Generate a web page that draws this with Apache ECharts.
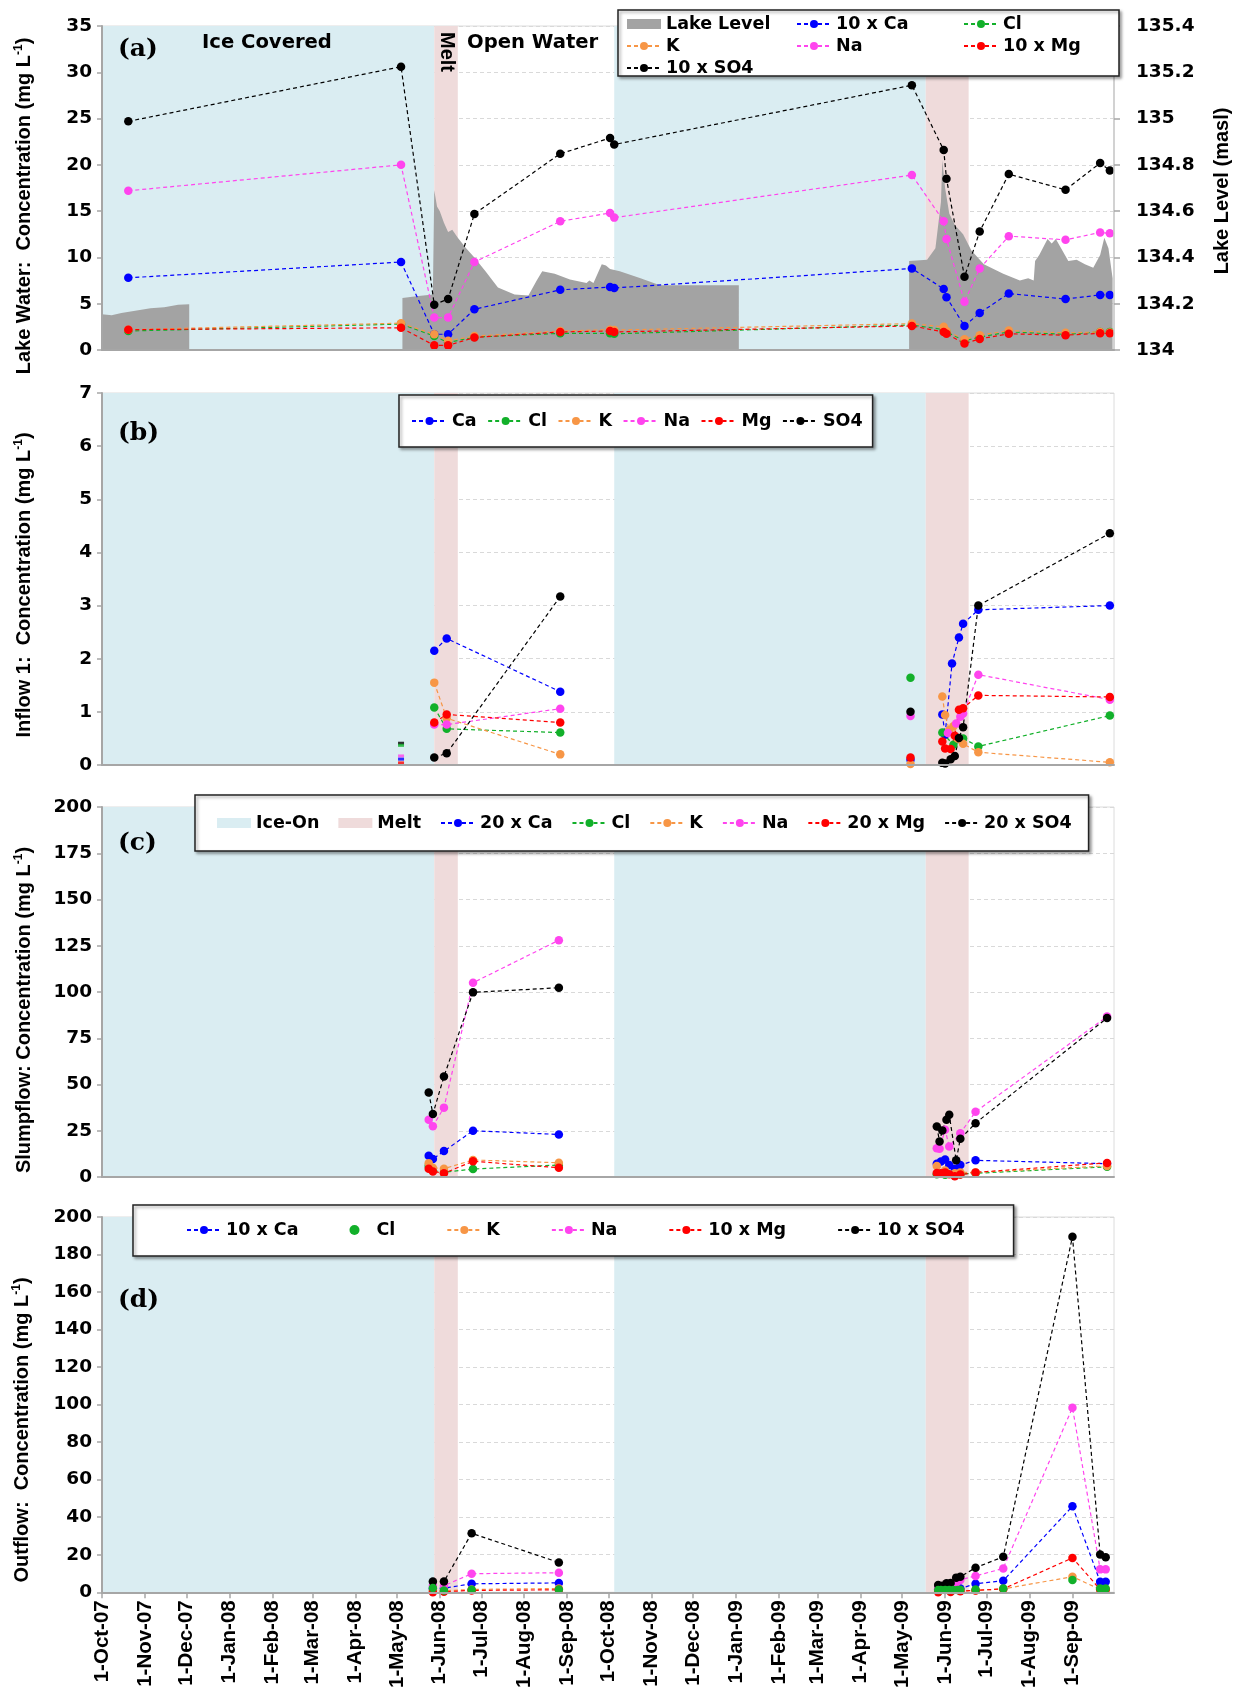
<!DOCTYPE html>
<html><head><meta charset="utf-8">
<script src="https://cdn.jsdelivr.net/npm/echarts@6/dist/echarts.min.js"></script>
<style>html,body{margin:0;padding:0;background:#fff}#c{width:1235px;height:1691px}</style>
</head><body><div id="c"></div>
<script>
// ---------------- DATA ----------------
const xTickLabels = ['1-Oct-07','1-Nov-07','1-Dec-07','1-Jan-08','1-Feb-08','1-Mar-08','1-Apr-08','1-May-08','1-Jun-08','1-Jul-08','1-Aug-08','1-Sep-08','1-Oct-08','1-Nov-08','1-Dec-08','1-Jan-09','1-Feb-09','1-Mar-09','1-Apr-09','1-May-09','1-Jun-09','1-Jul-09','1-Aug-09','1-Sep-09'];
const icePeriods = [['2007-10-01','2008-05-28'],['2008-10-05','2009-05-18']];
const meltPeriods = [['2008-05-28','2008-06-14'],['2009-05-18','2009-06-18']];

// (a) Lake water
const lakeDates = ['2007-10-20','2008-05-04','2008-05-28','2008-06-07','2008-06-26','2008-08-27','2008-10-02','2008-10-05','2009-05-08','2009-05-31','2009-06-02','2009-06-15','2009-06-26','2009-07-17','2009-08-27','2009-09-21','2009-09-28'];
const lakeCa10  = [7.8, 9.5, 1.7, 1.7, 4.4, 6.5, 6.8, 6.7, 8.8, 6.6, 5.7, 2.6, 4.0, 6.1, 5.5, 5.95, 5.95];
const lakeCl    = [2.05, 2.8, 1.5, 0.8, 1.4, 1.8, 1.8, 1.75, 2.7, 2.2, 1.95, 1.0, 1.4, 1.95, 1.7, 1.95, 1.95];
const lakeK     = [2.2, 2.9, 1.7, 1.0, 1.5, 2.05, 2.2, 2.15, 2.85, 2.5, 2.05, 1.15, 1.6, 2.1, 1.85, 1.95, 1.9];
const lakeNa    = [17.2, 20.0, 3.5, 3.5, 9.5, 13.9, 14.8, 14.3, 18.9, 13.9, 12.0, 5.2, 8.8, 12.3, 11.9, 12.7, 12.6];
const lakeMg10  = [2.2, 2.4, 0.5, 0.5, 1.35, 1.95, 2.05, 1.95, 2.6, 1.95, 1.75, 0.7, 1.2, 1.75, 1.6, 1.8, 1.8];
const lakeSO4x10= [24.7, 30.6, 4.9, 5.5, 14.7, 21.2, 22.9, 22.2, 28.6, 21.6, 18.5, 7.9, 12.8, 19.0, 17.3, 20.2, 19.4];
const lakeLevel = [
 ['2007-10-01',134.155],['2007-10-08',134.15],['2007-10-15',134.16],['2007-10-25',134.17],['2007-11-05',134.18],['2007-11-15',134.185],['2007-11-25',134.195],['2007-12-03',134.198],
 null,
 ['2008-05-05',134.225],['2008-05-15',134.232],['2008-05-27',134.24],['2008-05-28',134.69],['2008-05-30',134.62],['2008-06-01',134.60],['2008-06-04',134.55],['2008-06-07',134.51],['2008-06-10',134.52],['2008-06-14',134.485],['2008-06-20',134.44],['2008-06-26',134.40],['2008-07-04',134.34],['2008-07-13',134.27],['2008-07-25',134.24],['2008-08-04',134.235],['2008-08-10',134.30],['2008-08-14',134.34],['2008-08-23',134.33],['2008-09-03',134.305],['2008-09-15',134.29],['2008-09-17',134.30],['2008-09-20',134.29],['2008-09-26',134.37],['2008-09-29',134.365],['2008-10-02',134.35],['2008-10-09',134.34],['2008-10-24',134.31],['2008-11-07',134.28],['2008-11-22',134.28],['2009-01-03',134.28],
 null,
 ['2009-05-06',134.385],['2009-05-19',134.39],['2009-05-25',134.44],['2009-05-29',134.64],['2009-05-30',134.82],['2009-06-01',134.70],['2009-06-04',134.59],['2009-06-08',134.54],['2009-06-14',134.50],['2009-06-20',134.43],['2009-06-29',134.37],['2009-07-13',134.33],['2009-07-25',134.30],['2009-07-31',134.31],['2009-08-04',134.30],['2009-08-05',134.385],['2009-08-08',134.41],['2009-08-14',134.48],['2009-08-17',134.46],['2009-08-20',134.48],['2009-08-29',134.385],['2009-09-04',134.39],['2009-09-10',134.37],['2009-09-16',134.355],['2009-09-21',134.41],['2009-09-24',134.485],['2009-09-27',134.44],['2009-09-30',134.31]
];

// (b) Inflow 1
const inflowCa  = [['2008-05-28',2.15],['2008-06-06',2.38],['2008-08-27',1.38],null,['2009-05-07',0.10],null,['2009-05-30',0.95],['2009-06-01',0.57],['2009-06-06',1.91],['2009-06-11',2.40],['2009-06-14',2.66],['2009-06-25',2.92],['2009-09-28',3.00]];
const inflowCl  = [['2008-05-28',1.08],['2008-06-06',0.68],['2008-08-27',0.61],null,['2009-05-07',1.64],null,['2009-05-30',0.61],['2009-06-07',0.38],['2009-06-14',0.50],['2009-06-25',0.35],['2009-09-28',0.93]];
const inflowK   = [['2008-05-28',1.55],['2008-06-06',0.88],['2008-08-27',0.20],null,['2009-05-07',0.02],null,['2009-05-30',1.29],['2009-06-01',0.94],['2009-06-04',0.66],['2009-06-07',0.73],['2009-06-10',0.50],['2009-06-14',0.40],['2009-06-25',0.24],['2009-09-28',0.05]];
const inflowNa  = [['2008-05-28',0.76],['2008-06-06',0.76],['2008-08-27',1.06],null,['2009-05-07',0.92],null,['2009-06-03',0.60],['2009-06-09',0.78],['2009-06-12',0.91],['2009-06-14',0.97],['2009-06-25',1.70],['2009-09-28',1.23]];
const inflowMg  = [['2008-05-28',0.80],['2008-06-06',0.95],['2008-08-27',0.80],null,['2009-05-07',0.14],null,['2009-05-30',0.44],['2009-06-01',0.31],['2009-06-05',0.30],['2009-06-08',0.55],['2009-06-11',1.04],['2009-06-14',1.07],['2009-06-25',1.31],['2009-09-28',1.28]];
const inflowSO4 = [['2008-05-28',0.14],['2008-06-06',0.22],['2008-08-27',3.17],null,['2009-05-07',1.00],null,['2009-05-30',0.04],['2009-06-01',0.03],['2009-06-05',0.11],['2009-06-08',0.17],['2009-06-11',0.51],['2009-06-14',0.71],['2009-06-25',3.00],['2009-09-28',4.36]];
const inflowDashDate = '2008-05-04';
const inflowDashIons = ['SO4','Cl','Na','Ca','Mg'];
const inflowDashVals = [0.41, 0.37, 0.17, 0.11, 0.04];

// (c) Slumpflow
const slumpCa20  = [['2008-05-24',11.5],['2008-05-27',9.7],['2008-06-04',14.0],['2008-06-25',25.0],['2008-08-26',23.0],null,['2009-05-26',7.2],['2009-05-29',8.4],['2009-06-01',9.4],['2009-06-04',6.5],['2009-06-08',4.5],['2009-06-12',6.5],['2009-06-23',9.0],['2009-09-26',7.2]];
const slumpCl    = [['2008-05-24',6.0],['2008-05-27',3.5],['2008-06-04',2.5],['2008-06-25',4.3],['2008-08-26',6.5],null,['2009-05-26',1.5],['2009-06-01',1.2],['2009-06-08',0.8],['2009-06-12',1.5],['2009-06-23',2.0],['2009-09-26',5.5]];
const slumpK     = [['2008-05-24',7.5],['2008-05-27',5.0],['2008-06-04',4.5],['2008-06-25',9.2],['2008-08-26',7.7],null,['2009-05-26',6.0],['2009-06-01',3.5],['2009-06-08',2.0],['2009-06-12',2.5],['2009-06-23',2.5],['2009-09-26',6.0]];
const slumpNa    = [['2008-05-24',31.0],['2008-05-27',27.5],['2008-06-04',37.5],['2008-06-25',105.0],['2008-08-26',128.0],null,['2009-05-26',15.6],['2009-05-28',15.3],['2009-06-01',25.5],['2009-06-04',16.5],['2009-06-12',23.7],['2009-06-23',35.3],['2009-09-26',86.7]];
const slumpMg20  = [['2008-05-24',4.5],['2008-05-27',3.0],['2008-06-04',2.0],['2008-06-25',8.5],['2008-08-26',5.0],null,['2009-05-26',2.1],['2009-05-29',2.0],['2009-06-01',2.5],['2009-06-04',1.5],['2009-06-08',0.4],['2009-06-12',1.3],['2009-06-23',2.5],['2009-09-26',7.6]];
const slumpSO4x20= [['2008-05-24',45.7],['2008-05-27',34.0],['2008-06-04',54.3],['2008-06-25',99.8],['2008-08-26',102.3],null,['2009-05-26',27.3],['2009-05-28',19.2],['2009-05-30',25.2],['2009-06-02',31.0],['2009-06-04',33.6],['2009-06-09',9.0],['2009-06-12',20.7],['2009-06-23',29.1],['2009-09-26',86.0]];

// (d) Outflow
const outCa10   = [['2008-05-27',2.0],['2008-06-04',2.2],['2008-06-24',4.5],['2008-08-26',5.0],null,['2009-05-27',1.5],['2009-05-30',1.5],['2009-06-02',1.8],['2009-06-05',2.0],['2009-06-09',1.5],['2009-06-12',2.0],['2009-06-23',4.5],['2009-07-13',6.2],['2009-09-01',45.8],['2009-09-21',5.6],['2009-09-25',5.6]];
const outCl     = [['2008-05-27',2.3],['2008-06-04',1.0],['2008-06-24',1.3],['2008-08-26',1.5],null,['2009-05-27',1.2],['2009-05-29',1.2],['2009-06-01',1.2],['2009-06-04',1.2],['2009-06-07',1.2],['2009-06-10',1.2],['2009-06-12',1.3],['2009-06-23',1.5],['2009-07-13',2.0],['2009-09-01',6.5],['2009-09-21',2.0],['2009-09-25',2.0]];
const outK      = [['2008-05-27',1.0],['2008-06-04',0.8],['2008-06-24',1.5],['2008-08-26',2.0],null,['2009-05-27',0.5],['2009-06-05',0.6],['2009-06-12',0.8],['2009-06-23',1.0],['2009-07-13',1.8],['2009-09-01',8.3],['2009-09-21',1.5],['2009-09-25',1.5]];
const outNa     = [['2008-05-27',3.5],['2008-06-04',3.5],['2008-06-24',9.9],['2008-08-26',10.4],null,['2009-05-27',2.0],['2009-05-30',2.5],['2009-06-02',3.0],['2009-06-05',4.5],['2009-06-09',5.0],['2009-06-12',6.6],['2009-06-23',8.7],['2009-07-13',12.7],['2009-09-01',98.4],['2009-09-21',12.2],['2009-09-25',12.2]];
const outMg10   = [['2008-05-27',0.0],['2008-06-04',0.3],['2008-06-24',1.0],['2008-08-26',1.3],null,['2009-05-27',0.0],['2009-06-05',0.2],['2009-06-12',0.5],['2009-06-23',1.0],['2009-07-13',1.8],['2009-09-01',18.3],['2009-09-21',1.5],['2009-09-25',1.5]];
const outSO4x10 = [['2008-05-27',5.7],['2008-06-04',5.7],['2008-06-24',31.4],['2008-08-26',15.9],null,['2009-05-27',3.9],['2009-05-30',3.5],['2009-06-02',4.8],['2009-06-05',5.0],['2009-06-09',7.8],['2009-06-12',8.3],['2009-06-23',13.1],['2009-07-13',18.9],['2009-09-01',189.5],['2009-09-21',20.1],['2009-09-25',18.7]];

// ---------------- HELPERS / STYLE ----------------
const D = s => Date.UTC(+s.slice(0,4), +s.slice(5,7)-1, +s.slice(8,10));
const seq = arr => arr.map(p => p ? [D(p[0]), p[1]] : ['-','-']);
const MONTHS = ['Jan','Feb','Mar','Apr','May','Jun','Jul','Aug','Sep','Oct','Nov','Dec'];
const tickTs = s => { const [d,m,y] = s.split('-'); return Date.UTC(2000 + (+y), MONTHS.indexOf(m), +d); };
const tickVals = xTickLabels.map(tickTs);
const labelOf = {}; xTickLabels.forEach((s,i) => labelOf[tickVals[i]] = s);
const X0 = D('2007-10-01'), X1 = D('2009-10-01');

const FS = 'DejaVu Sans', FL = 'Liberation Sans';
const COL = {Ca:'#0000ff', Cl:'#12b02a', K:'#f79646', Na:'#ff44ee', Mg:'#ff0000', SO4:'#000000'};
const ICE = '#daedf2', MELT = '#efdbdb', GRAY = '#a3a3a3', AXC = '#a6a6a6';

const grids = [
  {left:102, width:1012, top:26, height:324},
  {left:102, width:1012, top:393, height:372},
  {left:102, width:1012, top:807, height:370},
  {left:102, width:1012, top:1217, height:377}
].map(g => Object.assign(g, {show:true, borderColor:'#dcdcdc', borderWidth:1, backgroundColor:'#fff'}));

const xAxes = [0,1,2,3].map(i => ({
  type:'value', gridIndex:i, min:X0, max:X1, z:5,
  splitLine:{show:false},
  axisLine:{onZero:false, lineStyle:{color:AXC, width:2}},
  axisTick:{show:i===3, customValues:tickVals, length:6, lineStyle:{color:AXC, width:1.5}},
  axisLabel:{show:i===3, customValues:tickVals, rotate:90, margin:8,
    formatter:v => labelOf[v] || '', fontFamily:FL, fontWeight:'bold', fontSize:20.5, color:'#000'}
}));

function mainY(g, min, max, interval){
  return {type:'value', gridIndex:g, position:'left', min, max, interval, z:0,
    axisLine:{show:false}, axisTick:{show:false}, axisLabel:{show:false},
    splitLine:{show:true, lineStyle:{color:'#d9d9d9', type:[4,3], width:1}}};
}
function frameY(g, min, max, interval){
  return {type:'value', gridIndex:g, position:'left', min, max, interval, z:5,
    splitLine:{show:false},
    axisLine:{show:true, lineStyle:{color:AXC, width:2}},
    axisTick:{show:true, length:5, lineStyle:{color:AXC, width:1.5}},
    axisLabel:{margin:10, fontFamily:FS, fontWeight:'bold', fontSize:18.5, color:'#000'}};
}
const yAxes = [
  mainY(0,0,35,5), frameY(0,0,35,5),
  {type:'value', gridIndex:0, position:'right', min:134, max:135.4, interval:0.2, z:5,
    splitLine:{show:false},
    axisLine:{show:true, lineStyle:{color:'#c8c8c8', width:1.5}},
    axisTick:{show:true, length:6, lineStyle:{color:AXC, width:1.5}},
    axisLabel:{margin:22, formatter:v => String(+v.toFixed(1)), fontFamily:FS, fontWeight:'bold', fontSize:18.5, color:'#000'}},
  mainY(1,0,7,1), frameY(1,0,7,1),
  mainY(2,0,200,25), frameY(2,0,200,25),
  mainY(3,0,200,20), frameY(3,0,200,20)
];
const MAINY = [0,3,5,7];

function line(name, color, data, g, yi, extra){
  return Object.assign({
    type:'line', name, xAxisIndex:g, yAxisIndex:yi, data,
    symbol:'circle', symbolSize:8.5, connectNulls:false, z:4,
    itemStyle:{color}, lineStyle:{color, width:1.2, type:[4,3]}
  }, extra || {});
}

const series = [];
[0,1,2,3].forEach(g => {
  series.push({type:'line', name:'Ice-On', xAxisIndex:g, yAxisIndex:MAINY[g], data:[], z:1, silent:true,
    itemStyle:{color:ICE}, lineStyle:{color:ICE},
    markArea:{silent:true, itemStyle:{color:ICE, opacity:1}, data: icePeriods.map(p => [{xAxis:D(p[0])},{xAxis:D(p[1])}])}});
  series.push({type:'line', name:'Melt', xAxisIndex:g, yAxisIndex:MAINY[g], data:[], z:1, silent:true,
    itemStyle:{color:MELT}, lineStyle:{color:MELT},
    markArea:{silent:true, itemStyle:{color:MELT, opacity:1}, data: meltPeriods.map(p => [{xAxis:D(p[0])},{xAxis:D(p[1])}])}});
});

// (a)
series.push({type:'line', name:'Lake Level', xAxisIndex:0, yAxisIndex:2, data:seq(lakeLevel), symbol:'none',
  connectNulls:false, z:2, itemStyle:{color:GRAY}, lineStyle:{width:0, color:GRAY},
  areaStyle:{color:GRAY, opacity:1, origin:'start'}});
const lk = vals => lakeDates.map((d,i) => [D(d), vals[i]]);
series.push(line('10 x Ca', COL.Ca, lk(lakeCa10), 0, 0));
series.push(line('Cl', COL.Cl, lk(lakeCl), 0, 0));
series.push(line('K', COL.K, lk(lakeK), 0, 0));
series.push(line('Na', COL.Na, lk(lakeNa), 0, 0));
series.push(line('10 x Mg', COL.Mg, lk(lakeMg10), 0, 0));
series.push(line('10 x SO4', COL.SO4, lk(lakeSO4x10), 0, 0));
// (b)
series.push(line('Ca', COL.Ca, seq(inflowCa), 1, 3));
series.push(line('Cl', COL.Cl, seq(inflowCl), 1, 3));
series.push(line('K', COL.K, seq(inflowK), 1, 3));
series.push(line('Na', COL.Na, seq(inflowNa), 1, 3));
series.push(line('Mg', COL.Mg, seq(inflowMg), 1, 3));
series.push(line('SO4', COL.SO4, seq(inflowSO4), 1, 3));
inflowDashIons.forEach((ion,i) => series.push({type:'scatter', name:ion, xAxisIndex:1, yAxisIndex:3,
  data:[[D(inflowDashDate), inflowDashVals[i]]], symbol:'rect', symbolSize:[6,3], z:4, itemStyle:{color:COL[ion]}}));
// (c)
series.push(line('20 x Ca', COL.Ca, seq(slumpCa20), 2, 5));
series.push(line('Cl', COL.Cl, seq(slumpCl), 2, 5));
series.push(line('K', COL.K, seq(slumpK), 2, 5));
series.push(line('Na', COL.Na, seq(slumpNa), 2, 5));
series.push(line('20 x Mg', COL.Mg, seq(slumpMg20), 2, 5));
series.push(line('20 x SO4', COL.SO4, seq(slumpSO4x20), 2, 5));
// (d)
series.push(line('10 x Ca', COL.Ca, seq(outCa10), 3, 7));
series.push(line('K', COL.K, seq(outK), 3, 7));
series.push(line('Na', COL.Na, seq(outNa), 3, 7));
series.push(line('10 x Mg', COL.Mg, seq(outMg10), 3, 7));
series.push(line('10 x SO4', COL.SO4, seq(outSO4x10), 3, 7));
series.push(line('Cl', COL.Cl, seq(outCl), 3, 7, {lineStyle:{width:0, color:COL.Cl}, z:4.5}));

// ---------------- LEGENDS ----------------
const LTXT = {fontFamily:FS, fontWeight:'bold', fontSize:17.5, color:'#000', lineHeight:20};
const legBase = {selectedMode:false, itemWidth:34, itemHeight:10, textStyle:LTXT, z:10};
const boxStyle = {backgroundColor:'#fff', borderColor:'#222', borderWidth:1.5,
  shadowBlur:3, shadowColor:'rgba(0,0,0,0.35)', shadowOffsetX:2, shadowOffsetY:2};
const legends = [
  Object.assign({}, legBase, {orient:'vertical', left:626, top:14, padding:0, itemGap:2,
    data:[{name:'Lake Level', icon:'rect'}, 'K', '10 x SO4']}),
  Object.assign({}, legBase, {orient:'vertical', left:796, top:14, padding:0, itemGap:2, data:['10 x Ca','Na']}),
  Object.assign({}, legBase, {orient:'vertical', left:963, top:14, padding:0, itemGap:2, data:['Cl','10 x Mg']}),
  Object.assign({}, legBase, boxStyle, {orient:'horizontal', left:399, top:395, padding:[16,10,16,12], itemGap:10.5, itemWidth:35,
    data:['Ca','Cl','K','Na','Mg','SO4']}),
  Object.assign({}, legBase, boxStyle, {orient:'horizontal', left:195, top:795, padding:[18,17,18,22], itemGap:19,
    data:[{name:'Ice-On', icon:'rect'},{name:'Melt', icon:'rect'},'20 x Ca','Cl','K','Na','20 x Mg','20 x SO4']}),
  Object.assign({}, legBase, boxStyle, {orient:'horizontal', left:133, top:1205, padding:[15,49,16,53], itemGap:51,
    data:['10 x Ca',{name:'Cl', icon:'circle'},'K','Na','10 x Mg','10 x SO4']})
];

// ---------------- GRAPHIC TEXT ----------------
function yName(text, x, y){
  return {type:'text', x, y, rotation:Math.PI/2, z:10,
    style:{text:'{n|' + text + ' (mg L}{s|-1}{n|)}', fill:'#000', textAlign:'center', textVerticalAlign:'middle',
      rich:{n:{fontFamily:FL, fontWeight:'bold', fontSize:20, lineHeight:22, fill:'#000'},
            s:{fontFamily:FL, fontWeight:'bold', fontSize:12, lineHeight:22, verticalAlign:'top', fill:'#000'}}}};
}
const graphic = [
  {type:'rect', z:8, shape:{x:618, y:10, width:501, height:66},
   style:{fill:'#fff', stroke:'#222', lineWidth:1.5, shadowBlur:3, shadowColor:'rgba(0,0,0,0.35)', shadowOffsetX:2, shadowOffsetY:2}},
  {type:'text', x:118, y:49, z:10, style:{text:'(a)', font:'bold 25px "DejaVu Serif"', fill:'#000', textVerticalAlign:'middle'}},
  {type:'text', x:118, y:433, z:10, style:{text:'(b)', font:'bold 25px "DejaVu Serif"', fill:'#000', textVerticalAlign:'middle'}},
  {type:'text', x:118, y:843, z:10, style:{text:'(c)', font:'bold 25px "DejaVu Serif"', fill:'#000', textVerticalAlign:'middle'}},
  {type:'text', x:118, y:1300, z:10, style:{text:'(d)', font:'bold 25px "DejaVu Serif"', fill:'#000', textVerticalAlign:'middle'}},
  {type:'text', x:202, y:43, z:10, style:{text:'Ice Covered', font:'bold 19.6px "DejaVu Sans"', fill:'#000', textVerticalAlign:'middle'}},
  {type:'text', x:467, y:43, z:10, style:{text:'Open Water', font:'bold 19.6px "DejaVu Sans"', fill:'#000', textVerticalAlign:'middle'}},
  {type:'text', x:447, y:32, rotation:-Math.PI/2, z:10, style:{text:'Melt', font:'bold 20px "Liberation Sans"', fill:'#000', textAlign:'left', textVerticalAlign:'middle'}},
  yName('Lake Water:  Concentration', 24, 206),
  yName('Inflow 1:  Concentration', 24, 585),
  yName('Slumpflow: Concentration', 24, 1010),
  yName('Outflow:  Concentration', 22, 1430),
  {type:'text', x:1222, y:191, rotation:Math.PI/2, z:10, style:{text:'Lake Level (masl)', font:'bold 20px "Liberation Sans"', fill:'#000', textAlign:'center', textVerticalAlign:'middle'}}
];

const chart = echarts.init(document.getElementById('c'), null, {renderer:'canvas'});
chart.setOption({
  animation:false,
  backgroundColor:'#fff',
  textStyle:{fontFamily:FS},
  grid:grids, xAxis:xAxes, yAxis:yAxes, legend:legends, graphic, series
});
</script></body></html>
